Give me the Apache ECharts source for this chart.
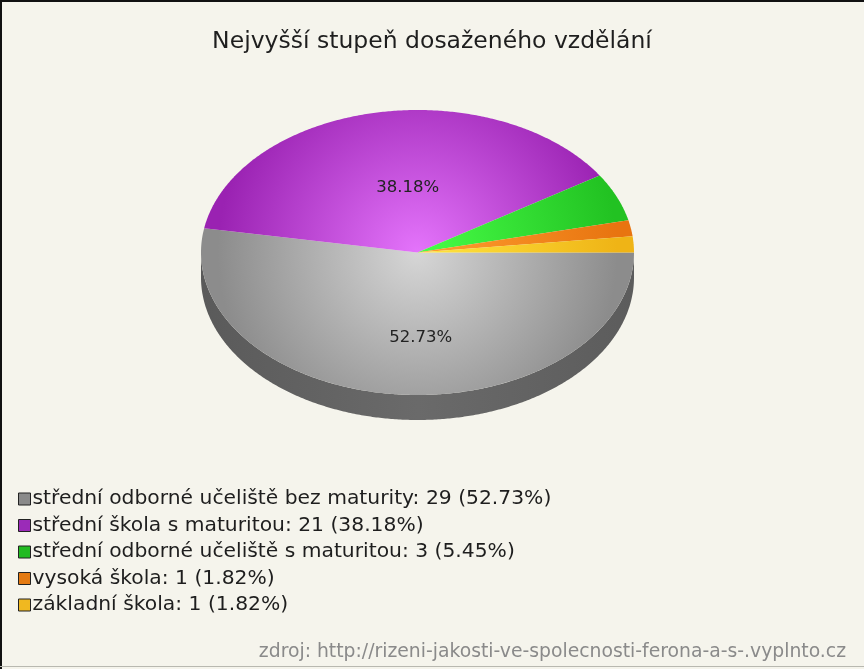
<!DOCTYPE html>
<html>
<head>
<meta charset="utf-8">
<script src="https://cdn.jsdelivr.net/npm/echarts@6/dist/echarts.min.js"></script>
<style>
  html, body { margin: 0; padding: 0; background: #f5f4ec; }
  #chart { width: 864px; height: 669px; }
</style>
</head>
<body>
<div id="chart"></div>
<script>
// Education levels and head counts
const categories = [
  'střední odborné učeliště bez maturity',
  'střední škola s maturitou',
  'střední odborné učeliště s maturitou',
  'vysoká škola',
  'základní škola'
];
const counts = [29, 21, 3, 1, 1];

// Legend swatch colours and [inner, outer] face gradient colours per slice
const swatchColors = ['#8a8a8a', '#9b2bb8', '#22bb22', '#e47a12', '#f0b820'];
const faceColors = [
  ['#d6d6d6', '#8c8c8c'],
  ['#e474fb', '#9a22b2'],
  ['#48ff48', '#22c222'],
  ['#ffa030', '#e87410'],
  ['#ffe640', '#efb416']
];
const sideColors = ['#6a6a6a', '#6e1a80', '#189018', '#b05808', '#b88a10'];

const titleText = 'Nejvyšší stupeň dosaženého vzdělání';
const sourceText = 'zdroj: http://rizeni-jakosti-ve-spolecnosti-ferona-a-s-.vyplnto.cz';

const FONT = 'DejaVu Sans, Verdana, sans-serif';

const total = counts.reduce((a, b) => a + b, 0);
const pct = counts.map(v => (v / total * 100).toFixed(2));

// Pie geometry (tilted disc seen from above)
const PIE = { cx: 417.5, cy: 252.5, rx: 216.5, ry: 142.5, depth: 25, labelR: 0.53 };

function pt(deg, dy) {
  const a = deg * Math.PI / 180;
  return [PIE.cx + PIE.rx * Math.cos(a), PIE.cy + PIE.ry * Math.sin(a) + (dy || 0)];
}

function arcPoints(a0, a1, dy) {
  const pts = [];
  const n = Math.max(2, Math.ceil(Math.abs(a1 - a0) / 0.5));
  for (let k = 0; k <= n; k++) pts.push(pt(a0 + (a1 - a0) * k / n, dy));
  return pts;
}

function sliceRenderer(i) {
  return function (params, api) {
    const value = api.value(0);
    const before = counts.slice(0, i).reduce((a, b) => a + b, 0);
    const a0 = before / total * 360;
    const a1 = (before + value) / total * 360;
    const children = [];

    // Visible rim: front half of the disc (0..180 deg, screen y grows downward)
    const s0 = Math.max(a0, 0), s1 = Math.min(a1, 180);
    if (s1 > s0) {
      const top = arcPoints(s0, s1, 0);
      const bottom = arcPoints(s1, s0, PIE.depth);
      children.push({
        type: 'polygon',
        shape: { points: top.concat(bottom) },
        style: {
          fill: {
            type: 'linear', x: 0, y: 0, x2: 1, y2: 0,
            colorStops: [
              { offset: 0, color: '#5a5a5a' },
              { offset: 0.5, color: sideColors[i] },
              { offset: 1, color: '#5c5c5c' }
            ]
          }
        }
      });
    }

    // Top face
    const face = [[PIE.cx, PIE.cy]].concat(arcPoints(a0, a1, 0));
    children.push({
      type: 'polygon',
      shape: { points: face },
      style: {
        fill: {
          type: 'radial', x: PIE.cx, y: PIE.cy, r: 200, global: true,
          colorStops: [
            { offset: 0, color: faceColors[i][0] },
            { offset: 1, color: faceColors[i][1] }
          ]
        }
      }
    });

    // Percentage label for large slices
    if (value / total > 0.1) {
      const mid = (a0 + a1) / 2 * Math.PI / 180;
      children.push({
        type: 'text',
        z2: 10,
        x: PIE.cx + PIE.labelR * PIE.rx * Math.cos(mid) + 13,
        y: PIE.cy + PIE.labelR * PIE.ry * Math.sin(mid) + 1,
        style: {
          text: pct[i] + '%',
          fill: '#222',
          fontSize: 16.5,
          fontFamily: FONT,
          align: 'center',
          verticalAlign: 'top'
        }
      });
    }
    return { type: 'group', children };
  };
}

const chart = echarts.init(document.getElementById('chart'), null, { renderer: 'canvas' });

chart.setOption({
  backgroundColor: '#f5f4ec',
  animation: false,
  title: [
    {
      text: titleText,
      left: 'center',
      top: 25,
      textStyle: { fontSize: 23.5, fontWeight: 'normal', color: '#1e1e1e', fontFamily: FONT }
    },
    {
      text: sourceText,
      right: 13,
      bottom: 2,
      textStyle: { fontSize: 18.8, fontWeight: 'normal', color: '#8a8a8a', fontFamily: FONT }
    }
  ],
  legend: {
    orient: 'vertical',
    left: 13,
    top: 484,
    icon: 'rect',
    itemWidth: 12,
    itemHeight: 12,
    itemGap: 6.5,
    selectedMode: false,
    itemStyle: { borderColor: '#222', borderWidth: 1 },
    textStyle: { fontSize: 20.3, lineHeight: 20, color: '#1e1e1e', padding: [0, 0, 0, -3], fontFamily: FONT },
    data: categories,
    formatter: name => {
      const i = categories.indexOf(name);
      return name + ': ' + counts[i] + ' (' + pct[i] + '%)';
    }
  },
  graphic: [
    { type: 'rect', shape: { x: 0, y: 0, width: 864, height: 2 }, style: { fill: '#111' } },
    { type: 'rect', shape: { x: 0, y: 0, width: 2, height: 669 }, style: { fill: '#111' } },
    { type: 'rect', shape: { x: 0, y: 666, width: 864, height: 1 }, style: { fill: '#b8b8b0' } }
  ],
  series: categories.map((name, i) => ({
    type: 'custom',
    name,
    coordinateSystem: 'none',
    data: [counts[i]],
    itemStyle: { color: swatchColors[i] },
    renderItem: sliceRenderer(i)
  }))
});
</script>
</body>
</html>
